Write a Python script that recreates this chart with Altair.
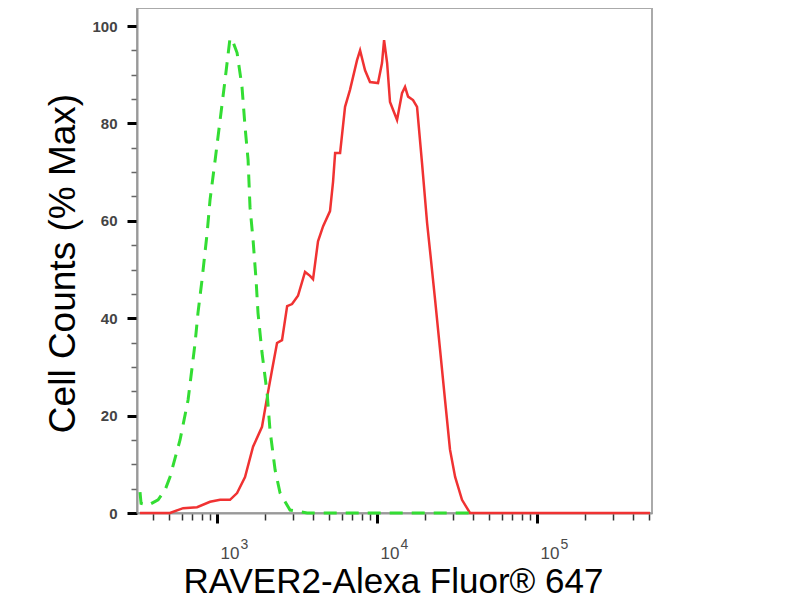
import altair as alt
import pandas as pd

# RAVER2 stained cells (red, solid)
stain_fl = [330, 508, 614, 750, 904, 1045, 1205, 1334, 1496, 1679, 1910, 2056,
            2208, 2371, 2547, 2742, 2944, 3206, 3548, 3811, 3981, 4276, 4603,
            5082, 5309, 5470, 5875, 6310, 6776, 7499, 7834, 8414, 9036, 10139,
            10740, 11066, 11561, 12050, 12589, 13335, 14322, 14962, 15631,
            16788, 17783, 19099, 20559, 21429, 23067, 24774, 26607, 28576,
            30761, 33963, 38107, 44055, 508000]
stain_pct = [0, 0, 1.0, 1.2, 2.3, 2.7, 2.7, 4.1, 7.4, 13.6, 17.7, 23.8,
             29.4, 34.9, 35.5, 42.5, 42.9, 44.6, 49.5, 48.7, 48.0, 55.8, 58.9,
             62.0, 68.0, 73.9, 73.9, 83.4, 86.9, 93.0, 95.0, 90.9, 88.5, 88.3,
             92.4, 97.1, 92.4, 84.4, 82.8, 80.7, 86.2, 87.5, 85.5,
             84.8, 83.4, 71.9, 59.5, 53.9, 43.7, 33.5, 23.2, 13.0,
             7.4, 2.7, 0, 0, 0]

# isotype control (green, dashed)
ctrl_fl = [330, 335, 371, 428, 473, 508, 587, 659, 729, 760, 805, 867, 904,
           973, 1045, 1122, 1205, 1259, 1334, 1432, 1496, 1563, 1607, 1679,
           1754, 1803, 1910, 2056, 2143, 2307, 2477, 2858, 3656, 10000, 38000]
ctrl_pct = [4.3, 2.0, 1.6, 2.7, 4.7, 7.4, 15.0, 23.2, 34.9, 41.1, 47.8, 57.5, 64.3,
            72.5, 80.7, 88.9, 97.5, 96.7, 94.5, 87.5, 79.3, 72.5, 62.8, 56.1,
            47.8, 41.1, 32.9, 24.6, 17.0, 8.8, 4.1, 0.6, 0, 0, 0]

x_ticks = [400, 500, 600, 700, 800, 900, 1000,
           2000, 3000, 4000, 5000, 6000, 7000, 8000, 9000, 10000,
           20000, 30000, 40000, 50000, 60000, 70000, 80000, 90000, 100000,
           200000, 300000, 400000, 500000]
decades = [1000, 10000, 100000]
y_ticks = list(range(0, 101, 5))

stain = pd.DataFrame({"fl": stain_fl, "pct": stain_pct})
ctrl = pd.DataFrame({"fl": ctrl_fl, "pct": ctrl_pct})

x_major = "datum.value == 1000 || datum.value == 10000 || datum.value == 100000"
y_major = "datum.value % 20 == 0"
x_scale = alt.Scale(type="log", domain=[316, 523000], nice=False)

# main x axis: ticks, "10" labels and the title
x_main = alt.X(
    "fl:Q",
    scale=x_scale,
    axis=alt.Axis(
        orient="bottom",
        values=x_ticks,
        title="RAVER2-Alexa Fluor® 647",
        titleFont="Liberation Sans", titleFontSize=35, titleFontWeight="normal",
        titleColor="#000000", titleBaseline="alphabetic",
        titleX=256, titleY=79,
        labelExpr="(" + x_major + ") ? '10' : ''",
        labelFont="Liberation Sans", labelFontSize=17, labelColor="#4a4a4a",
        labelAlign="left", labelBaseline="alphabetic", labelPadding=35,
        labelOffset=3, labelFlush=False, labelOverlap=False,
        domainColor="#999999", domainWidth=2,
        tickColor={"condition": {"test": x_major, "value": "#000000"}, "value": "#333333"},
        tickWidth={"condition": {"test": x_major, "value": 3}, "value": 1.5},
        tickSize={"condition": {"test": x_major, "value": 10}, "value": 7},
        grid=False,
    ),
)

# second x axis: only the raised exponents
x_exp = alt.X(
    "fl:Q",
    scale=x_scale,
    axis=alt.Axis(
        orient="bottom",
        values=decades,
        title=None,
        labelExpr="datum.value == 1000 ? '3' : datum.value == 10000 ? '4' : '5'",
        labelFont="Liberation Sans", labelFontSize=14, labelColor="#4a4a4a",
        labelAlign="left", labelBaseline="alphabetic", labelPadding=35,
        labelOffset=23, labelFlush=False, labelOverlap=False,
        domain=False, ticks=False, tickSize=0, grid=False,
    ),
)

y_enc = alt.Y(
    "pct:Q",
    scale=alt.Scale(domain=[0, 103.7], nice=False),
    axis=alt.Axis(
        values=y_ticks,
        title="Cell Counts (% Max)",
        titleFont="Liberation Sans", titleFontSize=37, titleFontWeight="normal",
        titleColor="#000000", titleBaseline="alphabetic",
        titleX=-63, titleY=255,
        labelExpr="datum.value % 20 == 0 ? datum.label : ''",
        labelFont="Liberation Sans", labelFontSize=15, labelFontWeight="bold",
        labelColor="#444444", labelPadding=10,
        domainColor="#999999", domainWidth=2,
        tickColor={"condition": {"test": y_major, "value": "#000000"}, "value": "#666666"},
        tickWidth={"condition": {"test": y_major, "value": 3}, "value": 1.5},
        tickSize={"condition": {"test": y_major, "value": 10}, "value": 6},
        grid=False,
    ),
)

red = alt.Chart(stain).mark_line(color="#f03232", strokeWidth=2.5).encode(
    x=x_main, y=y_enc, order="fl:Q")

green = alt.Chart(ctrl).mark_line(
    color="#33dd33", strokeWidth=3, strokeDash=[13, 9]
).encode(x=x_exp, y=y_enc, order="fl:Q")

chart = alt.layer(red, green).resolve_axis(x="independent").properties(
    width=515,
    height=505,
    autosize=alt.AutoSizeParams(type="none"),
    padding={"left": 129, "top": 0, "right": 130, "bottom": 87},
).configure_view(stroke="#aaaaaa", strokeWidth=2)

chart.save("out.html", embed_options={"renderer": "svg", "actions": False})
